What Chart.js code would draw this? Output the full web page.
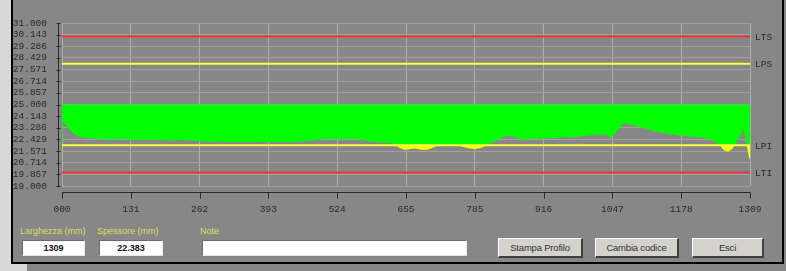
<!DOCTYPE html>
<html>
<head>
<meta charset="utf-8">
<script src="https://cdn.jsdelivr.net/npm/chart.js@4/dist/chart.umd.min.js"></script>
<style>
  html, body { margin:0; padding:0; }
  body { width:786px; height:271px; background:#d8d8d8; position:relative; overflow:hidden; font-family:"Liberation Sans", Arial, sans-serif; }
  #under { position:absolute; left:27px; top:262px; width:759px; height:9px; background:#858585; }
  #rightstrip { position:absolute; left:782px; top:0; width:4px; height:271px; background:#858585; }
  #panel { position:absolute; left:11px; top:-2px; width:769px; height:262px; background:#878787; border:2px solid #000; }
  #wrap { position:absolute; left:0; top:0; width:786px; height:220px; }
  .lbl { position:absolute; font-size:9px; color:#dede5c; white-space:nowrap; }
  .box { position:absolute; background:#fff; height:16px; border-top:1px solid #6a6a6a; border-left:1px solid #6a6a6a; border-bottom:1px solid #e8e8e8; border-right:1px solid #e8e8e8; box-sizing:border-box; font-size:9px; font-weight:bold; color:#111; text-align:center; line-height:14px; }
  .btn { position:absolute; top:238px; height:20px; background:#d4d2cc; border-top:1px solid #fff; border-left:1px solid #fff; border-bottom:2px solid #404040; border-right:2px solid #404040; box-sizing:border-box; font-size:9.5px; color:#333; text-align:center; line-height:17px; letter-spacing:-0.2px; }
</style>
</head>
<body>
<div id="under"></div>
<div id="rightstrip"></div>
<div id="panel"></div>
<div id="wrap"><canvas id="c" width="786" height="220"></canvas></div>

<div class="lbl" style="left:20px;top:226px;">Larghezza (mm)</div>
<div class="box" style="left:22px;top:240px;width:63px;">1309</div>
<div class="lbl" style="left:97px;top:226px;">Spessore (mm)</div>
<div class="box" style="left:99px;top:240px;width:64px;">22.383</div>
<div class="lbl" style="left:200px;top:226px;">Note</div>
<div class="box" style="left:202px;top:240px;width:265px;"></div>
<div class="btn" style="left:498px;width:85px;">Stampa Profilo</div>
<div class="btn" style="left:595px;width:84px;">Cambia codice</div>
<div class="btn" style="left:692px;width:72px;">Esci</div>

<script>
// ---- data ----
const xTickValues = [0, 130.9, 261.8, 392.7, 523.6, 654.5, 785.4, 916.3, 1047.2, 1178.1, 1309];
const xTickLabels = ["000","131","262","393","524","655","785","916","1047","1178","1309"];
const yTickValues = [19.000,19.857,20.714,21.571,22.429,23.286,24.143,25.000,25.857,26.714,27.571,28.429,29.286,30.143,31.000];
const yTickLabels = ["19.000","19.857","20.714","21.571","22.429","23.286","24.143","25.000","25.857","26.714","27.571","28.429","29.286","30.143","31.000"];

const nominal = 25;
const limitNames  = ["LTS","LPS","LPI","LTI"];
const limitValues = [30, 28, 22, 20];

const profileX = [0,2,8,15,23,30,42,57,72,91,110,129,148,167,186,205,225,244,263,282,301,320,339,358,377,396,415,434,453,472,491,510,529,548,567,586,605,624,634,643,653,662,672,681,691,700,710,719,738,757,771,784,797,809,822,833,845,856,868,881,900,919,938,957,976,995,1014,1033,1046,1058,1069,1081,1100,1119,1138,1157,1176,1195,1214,1233,1244,1252,1259,1267,1275,1282,1290,1296,1301,1307,1309];
const profileY = [20.85,23.75,23.49,23.12,22.82,22.68,22.55,22.49,22.46,22.42,22.46,22.42,22.38,22.42,22.38,22.35,22.38,22.35,22.27,22.26,22.27,22.23,22.26,22.23,22.26,22.23,22.26,22.23,22.27,22.31,22.42,22.46,22.44,22.46,22.42,22.27,22.20,22.16,22.01,21.79,21.65,21.72,21.76,21.68,21.65,21.72,21.91,21.98,21.98,21.94,21.79,21.72,21.79,22.01,22.27,22.46,22.68,22.68,22.49,22.42,22.46,22.49,22.53,22.57,22.60,22.68,22.75,22.79,22.55,23.12,23.60,23.53,23.34,23.12,22.94,22.82,22.71,22.64,22.57,22.42,22.23,21.98,21.65,21.53,21.72,22.12,22.68,23.16,22.38,21.13,20.91];

// ---- build ----
const profile = profileX.map((x, i) => ({ x: x, y: profileY[i] }));
const limitColor = { LTS: "#e53a36", LTI: "#e53a36", LPS: "#ffff3c", LPI: "#ffff3c" };
const limitSets = limitNames.map((n, i) => ({
  label: n,
  data: [{ x: 0, y: limitValues[i] }, { x: 1309, y: limitValues[i] }],
  borderColor: limitColor[n], borderWidth: 2, pointRadius: 0, fill: false
}));

const decor = {
  id: "decor",
  afterDraw(chart) {
    const ctx = chart.ctx, a = chart.chartArea;
    const xs = chart.scales.x, ys = chart.scales.y;
    ctx.save();
    ctx.strokeStyle = "#2a2a2a"; ctx.lineWidth = 1;
    const ay = Math.round(a.bottom) + 6.5;
    ctx.beginPath(); ctx.moveTo(a.left, ay); ctx.lineTo(a.right, ay); ctx.stroke();
    xTickValues.forEach(v => {
      const px = Math.round(xs.getPixelForValue(v)) + 0.5;
      ctx.beginPath(); ctx.moveTo(px, ay); ctx.lineTo(px, ay + 6); ctx.stroke();
    });
    const ax = Math.round(a.left) - 3.5;
    ctx.beginPath(); ctx.moveTo(ax, a.top); ctx.lineTo(ax, a.bottom); ctx.stroke();
    yTickValues.forEach(v => {
      const py = Math.round(ys.getPixelForValue(v)) + 0.5;
      ctx.beginPath(); ctx.moveTo(ax - 2, py); ctx.lineTo(ax + 2, py); ctx.stroke();
    });
    ctx.fillStyle = "#2a2a2a";
    ctx.font = "9.5px 'Liberation Mono', monospace";
    ctx.textBaseline = "middle"; ctx.textAlign = "left";
    limitNames.forEach((n, i) => {
      ctx.fillText(n, a.right + 5, ys.getPixelForValue(limitValues[i]) + 1);
    });
    ctx.restore();
  }
};

new Chart(document.getElementById("c"), {
  type: "line",
  data: {
    datasets: [
      ...limitSets,
      { label: "sotto LPI", data: profile, borderWidth: 0, borderColor: "rgba(0,0,0,0)", pointRadius: 0,
        fill: { target: { value: limitValues[2] }, above: "rgba(0,0,0,0)", below: "#ffff00" } },
      { label: "profilo", data: profile, borderWidth: 0, borderColor: "rgba(0,0,0,0)", pointRadius: 0,
        fill: { target: { value: nominal }, above: "#00ff00", below: "#00ff00" } }
    ]
  },
  options: {
    responsive: false,
    animation: false,
    layout: { padding: { top: 23, right: 36, left: 0, bottom: 0 } },
    plugins: { legend: { display: false }, tooltip: { enabled: false } },
    elements: { line: { tension: 0 } },
    scales: {
      x: {
        type: "linear", min: 0, max: 1309,
        afterBuildTicks: s => { s.ticks = xTickValues.map(v => ({ value: v })); },
        afterFit: s => { s.height = 34; },
        ticks: { autoSkip: false, maxRotation: 0, padding: 18, color: "#2a2a2a",
                 font: { family: "'Liberation Mono', monospace", size: 9.5 },
                 callback: (v, i) => xTickLabels[i] },
        grid: { color: "#adadad", lineWidth: 1, drawTicks: false },
        border: { display: false }
      },
      y: {
        min: 19, max: 31,
        afterBuildTicks: s => { s.ticks = yTickValues.map(v => ({ value: v })); },
        afterFit: s => { s.width = 62; },
        ticks: { autoSkip: false, padding: 15, color: "#2a2a2a",
                 font: { family: "'Liberation Mono', monospace", size: 9.5 },
                 callback: (v, i) => yTickLabels[i] },
        grid: { color: "#a89ea2", lineWidth: 1, drawTicks: false },
        border: { display: false }
      }
    }
  },
  plugins: [decor]
});
</script>
</body>
</html>
